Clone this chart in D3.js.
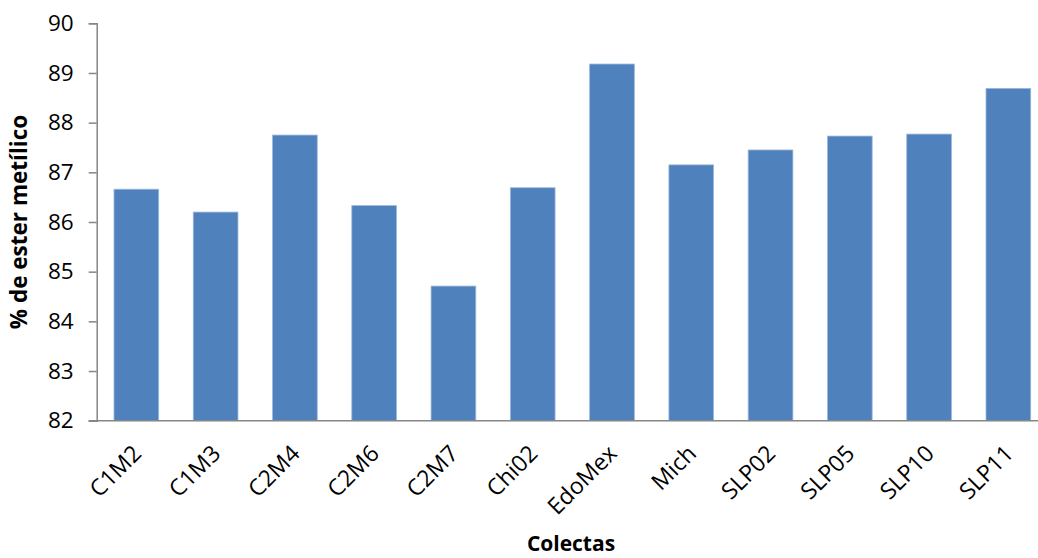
<!DOCTYPE html>
<html><head><meta charset="utf-8">
<script src="https://cdn.jsdelivr.net/npm/d3@7"></script>
<style>body{margin:0;background:#fff}svg{display:block}</style>
</head><body>
<script>
const categories = ["C1M2","C1M3","C2M4","C2M6","C2M7","Chi02","EdoMex","Mich","SLP02","SLP05","SLP10","SLP11"];
const values = [86.66, 86.20, 87.75, 86.33, 84.71, 86.69, 89.18, 87.15, 87.45, 87.73, 87.77, 88.69];
const yTicks = [82,83,84,85,86,87,88,89,90];
const yTitle = "% de ester metílico";
const xTitle = "Colectas";

(function(){
const W = 1038, H = 558;
const mLeft = 96.7, mRight = 1048, mTop = 23.3, mBottom = 420.7;
const svg = d3.select("body").append("svg").attr("width", W).attr("height", H);
const font = "'Open Sans', 'Liberation Sans', sans-serif";

const x = d3.scaleBand().domain(categories).range([mLeft, mRight]).paddingInner(0.436).paddingOuter(0.218);
const y = d3.scaleLinear().domain([82, 90]).range([mBottom, mTop]);

svg.append("g").selectAll("rect").data(values).join("rect")
  .attr("x", (d,i) => x(categories[i]))
  .attr("y", d => y(d))
  .attr("width", x.bandwidth())
  .attr("height", d => y(82) - y(d))
  .attr("fill", "#4F81BD")
  .attr("stroke", "#9EB8DC").attr("stroke-width", 0.8);

const yAxis = svg.append("g").attr("transform", `translate(${mLeft},0)`)
  .call(d3.axisLeft(y).tickValues(yTicks).tickSize(8).tickPadding(15).tickFormat(d3.format("d")));
yAxis.select(".domain").attr("stroke", "#868686").attr("stroke-width", 1.5);
yAxis.selectAll(".tick line").attr("stroke", "#868686").attr("stroke-width", 1.5);
yAxis.selectAll("text").attr("font-family", font).attr("font-size", 22.5).attr("fill", "#000");

svg.append("line").attr("x1", mLeft - 8).attr("x2", W).attr("y1", mBottom).attr("y2", mBottom)
  .attr("stroke", "#868686").attr("stroke-width", 1.5);

const xAxis = svg.append("g").attr("transform", `translate(0,${mBottom})`)
  .call(d3.axisBottom(x).tickSize(0).tickPadding(0));
xAxis.select(".domain").remove();
xAxis.selectAll(".tick text")
  .attr("font-family", font).attr("font-size", 23).attr("fill", "#000")
  .attr("text-anchor", "end").attr("dy", null).attr("y", 0)
  .attr("transform", "translate(2,30) rotate(-45)")
  .attr("dominant-baseline", "middle");

svg.append("text").attr("transform", `translate(27,${(mTop+mBottom)/2}) rotate(-90)`)
  .attr("text-anchor", "middle").attr("font-family", font).attr("font-weight", "bold")
  .attr("font-size", 22.5).text(yTitle);
svg.append("text").attr("x", 571).attr("y", 551)
  .attr("text-anchor", "middle").attr("font-family", font).attr("font-weight", "bold")
  .attr("font-size", 21).text(xTitle);
})();
</script>
</body></html>
